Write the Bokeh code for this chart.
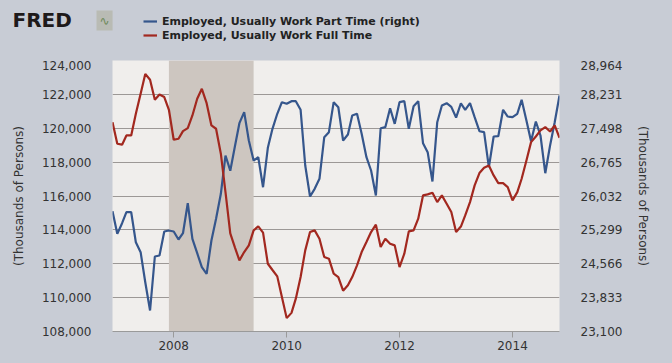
import pandas as pd
from bokeh.plotting import figure
from bokeh.layouts import column
from bokeh.models import (Range1d, LinearAxis, FixedTicker, NumeralTickFormatter,
                          DatetimeTickFormatter, BoxAnnotation, Legend, LegendItem, Label)
from bokeh.embed import file_html
from bokeh.resources import INLINE

start_month = "2006-12-01"
n_months = 96
recession = ["2007-12-01", "2009-06-01"]

full_time = [
    120360, 119085, 119030, 119575, 119575, 120855, 122030, 123210, 122860, 121680,
    121990, 121840, 121090, 119320, 119380, 119830, 120010, 120755, 121740, 122330,
    121480, 120165, 119970, 118495, 116230, 113790, 112940, 112200, 112690, 113085,
    113970, 114205, 113840, 112000, 111630, 111255, 110035, 108790, 109100, 109940,
    111215, 112790, 113870, 113970, 113480, 112395, 112300, 111415, 111215, 110410,
    110725, 111215, 111905, 112690, 113280, 113870, 114305, 112985, 113480, 113185,
    113085, 111805, 112595, 113910, 113970, 114660, 116035, 116095, 116190, 115640,
    116035, 115545, 115050, 113870, 114195, 114855, 115640, 116625, 117355, 117670,
    117805, 117215, 116760, 116760, 116525, 115740, 116230, 117020, 118100, 119180,
    119515, 119870, 120065, 119810, 120165, 119440,
]
part_time = [
    25703, 25213, 25443, 25681, 25681, 25032, 24816, 24166, 23554, 24723,
    24744, 25264, 25285, 25264, 25091, 25227, 25876, 25105, 24794, 24491,
    24348, 25069, 25538, 26079, 26908, 26580, 27125, 27608, 27846, 27233,
    26800, 26872, 26222, 27075, 27486, 27811, 28062, 28027, 28084, 28084,
    27897, 26692, 26021, 26187, 26404, 27304, 27413, 28062, 27953, 27233,
    27363, 27774, 27811, 27378, 26872, 26584, 26043, 27499, 27521, 27932,
    27594, 28062, 28084, 27486, 27975, 28084, 27175, 26980, 26346, 27629,
    27990, 28040, 27960, 27730, 28034, 27897, 28040, 27737, 27434, 27413,
    26655, 27319, 27326, 27897, 27752, 27737, 27811, 28113, 27666, 27218,
    27644, 27341, 26525, 27125, 27629, 28207,
]
left_ticks = [108000, 110000, 112000, 114000, 116000, 118000, 120000, 122000, 124000]
right_ticks = [23100, 23833, 24566, 25299, 26032, 26765, 27498, 28231, 28964]
year_ticks = ["2008-01-01", "2010-01-01", "2012-01-01", "2014-01-01"]
series_names = ["Employed, Usually Work Part Time (right)", "Employed, Usually Work Full Time"]
series_colors = ["#35568c", "#a2281f"]
axis_title = "(Thousands of Persons)"

dates = pd.date_range(start_month, periods=n_months, freq="MS")

FONT = "DejaVu Sans"
TXT = "#333333"
BG = "#c8ccd5"
W = 656
HEAD_H = 52

# ---------- header (logo + legend) ----------
head = figure(width=W, height=HEAD_H, output_backend="svg", toolbar_location=None,
              x_range=Range1d(0, 1), y_range=Range1d(0, 1),
              x_axis_location=None, y_axis_location=None,
              min_border=0, min_border_left=0, min_border_right=0,
              min_border_top=0, min_border_bottom=0)
head.frame_align = False
head.background_fill_color = BG
head.border_fill_color = BG
head.outline_line_color = None
head.grid.grid_line_color = None

# legend keys: the same series, kept outside the header's (unit) view
key_blue = head.line(dates, part_time, line_color=series_colors[0], line_width=2.2)
key_red = head.line(dates, full_time, line_color=series_colors[1], line_width=2.2)

legend = Legend(items=[LegendItem(label=series_names[0], renderers=[key_blue]),
                       LegendItem(label=series_names[1], renderers=[key_red])],
                location=(135, 18), orientation="vertical",
                padding=0, margin=0, spacing=0,
                border_line_color=None, background_fill_alpha=0,
                glyph_width=14, glyph_height=14, label_height=14, label_standoff=5,
                label_text_font=FONT, label_text_font_size="11px",
                label_text_font_style="bold", label_text_color="#222222")
head.add_layout(legend, "center")

logo = Label(x=4, y=41, x_units="screen", y_units="screen", text="FRED",
             text_font=FONT, text_font_size="20px", text_font_style="bold",
             text_color="#1e1a1a", text_baseline="alphabetic")
head.add_layout(logo)
icon = Label(x=88, y=40, x_units="screen", y_units="screen", text="\u223f",
             text_font=FONT, text_font_size="12px", text_color="#6e8a5a",
             text_baseline="alphabetic", background_fill_color="#b9bbb4",
             padding=3)
head.add_layout(icon)

# ---------- main chart ----------
p = figure(width=W, height=347 - HEAD_H, x_axis_type="datetime", output_backend="svg",
           toolbar_location=None,
           x_range=Range1d(dates[0], dates[-1]),
           y_range=Range1d(left_ticks[0], left_ticks[-1]),
           min_border_left=104, min_border_right=105, min_border_top=0, min_border_bottom=24)
p.frame_align = False
p.background_fill_color = "#f0eeec"
p.border_fill_color = BG
p.outline_line_color = None
p.extra_y_ranges = {"right": Range1d(right_ticks[0], right_ticks[-1])}

rec = BoxAnnotation(left=pd.Timestamp(recession[0]), right=pd.Timestamp(recession[1]),
                    fill_color="#cdc6c0", fill_alpha=1.0, line_color=None, level="underlay")
p.add_layout(rec)

p.line(dates, part_time, y_range_name="right", line_color=series_colors[0], line_width=2.2)
p.line(dates, full_time, line_color=series_colors[1], line_width=2.2)

xa = p.xaxis[0]
xa.ticker = FixedTicker(ticks=[pd.Timestamp(t).value / 1e6 for t in year_ticks])
xa.formatter = DatetimeTickFormatter(years="%Y", months="%Y", days="%Y", hours="%Y")
xa.axis_line_color = "#9a9a9a"
xa.major_tick_line_color = "#9a9a9a"
xa.major_tick_out = 6
xa.major_tick_in = 0
xa.minor_tick_line_color = None
xa.major_label_standoff = 3
xa.major_label_text_font = FONT
xa.major_label_text_font_size = "12px"
xa.major_label_text_color = TXT

ya = p.yaxis[0]
ya.ticker = FixedTicker(ticks=left_ticks)
ya.formatter = NumeralTickFormatter(format="0,0")

ra = LinearAxis(y_range_name="right", ticker=FixedTicker(ticks=right_ticks),
                formatter=NumeralTickFormatter(format="0,0"))
p.add_layout(ra, "right")

for ax in (ya, ra):
    ax.axis_line_color = None
    ax.major_tick_line_color = None
    ax.minor_tick_line_color = None
    ax.major_label_standoff = 15
    ax.major_label_text_font = FONT
    ax.major_label_text_font_size = "12px"
    ax.major_label_text_color = TXT
    ax.axis_label = axis_title
    ax.axis_label_text_font = FONT
    ax.axis_label_text_font_size = "12px"
    ax.axis_label_text_font_style = "normal"
    ax.axis_label_text_color = TXT
ya.axis_label_standoff = 13
ra.axis_label_standoff = 11

p.xgrid.grid_line_color = None
p.ygrid.grid_line_color = "#9c9896"
p.ygrid.grid_line_width = 1
p.ygrid.ticker = FixedTicker(ticks=left_ticks)

layout = column(head, p, spacing=0)

html = file_html(layout, INLINE)
html = html.replace("</head>", "<style>body{background:%s;margin:8px;}</style></head>" % BG, 1)
open("out.html", "w").write(html)
